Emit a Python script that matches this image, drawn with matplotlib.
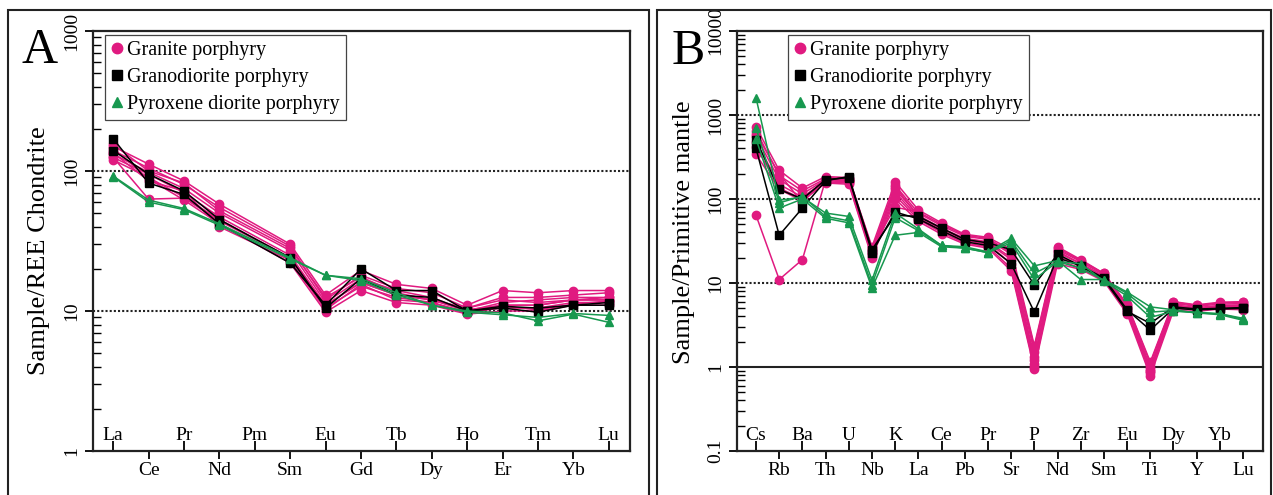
import numpy as np
import matplotlib.pyplot as plt
from matplotlib.patches import Rectangle
from matplotlib.lines import Line2D
from matplotlib.ticker import LogLocator, NullFormatter

plt.rcParams['font.family'] = ['Liberation Serif', 'DejaVu Serif']

# Panel A: chondrite-normalised REE (Pm not measured)
ree = ["La", "Ce", "Pr", "Nd", "Pm", "Sm", "Eu", "Gd", "Tb", "Dy", "Ho", "Er", "Tm", "Yb", "Lu"]
ree_measured = ["La", "Ce", "Pr", "Nd", "Sm", "Eu", "Gd", "Tb", "Dy", "Ho", "Er", "Tm", "Yb", "Lu"]

granite_ree = [
    [150, 112, 85, 58, 30, 13.0, 19.5, 15.5, 14.5, 11.0, 14.0, 13.5, 14.0, 14.0],
    [140, 105, 80, 55, 29, 12.0, 18.0, 14.5, 13.5, 10.5, 12.5, 12.5, 13.0, 13.5],
    [132, 98, 75, 50, 27, 11.5, 17.0, 14.0, 12.5, 10.0, 11.5, 12.0, 12.5, 12.5],
    [125, 95, 70, 47, 25, 11.0, 16.0, 13.0, 12.0, 10.2, 11.0, 11.0, 12.0, 12.0],
    [120, 90, 65, 45, 24, 10.5, 15.0, 12.5, 11.5, 9.8, 10.5, 10.5, 11.5, 11.5],
    [145, 88, 62, 42, 22, 9.8, 14.0, 11.5, 11.0, 9.5, 10.0, 10.0, 11.0, 11.0],
    [155, 100, 82, 52, 28, 12.5, 17.5, 13.5, 12.0, 10.5, 12.0, 11.5, 12.0, 12.5],
    [125, 63, 64, 44, 24, 11.0, 16.0, 13.0, 12.0, 10.0, 11.0, 11.0, 12.0, 12.0],
    [135, 85, 72, 40, 23, 10.2, 15.5, 12.0, 11.5, 9.6, 10.8, 10.2, 11.2, 11.8],
]
granodiorite_ree = [
    [170, 82, 68, 42, 22, 11.0, 20.0, 14.0, 14.0, 10.0, 10.5, 9.8, 11.0, 11.5],
    [140, 95, 72, 45, 24, 10.5, 17.0, 13.0, 12.5, 10.0, 10.8, 10.5, 11.0, 11.0],
]
pyroxene_ree = [
    [91, 60, 53, 41, 23.5, 18.0, 17.0, 13.5, 11.0, 10.0, 9.7, 8.5, 9.5, 8.3],
    [92, 62, 54, 42, 24.0, 18.0, 16.5, 13.0, 11.0, 9.8, 9.4, 9.0, 9.6, 9.3],
]

# Panel B: primitive-mantle normalised trace elements
trace = ["Cs", "Rb", "Ba", "Th", "U", "Nb", "K", "La", "Ce", "Pb", "Pr",
         "Sr", "P", "Nd", "Zr", "Sm", "Eu", "Ti", "Dy", "Y", "Yb", "Lu"]

granite_tr = [
    [720, 220, 135, 185, 180, 27, 160, 74, 52, 38, 35, 25, 1.8, 27, 19, 13.0, 5.6, 1.15, 6.0, 5.5, 5.9, 6.0],
    [650, 190, 125, 175, 170, 25, 145, 68, 48, 36, 33, 22, 1.5, 25, 18, 12.5, 5.3, 1.0, 5.7, 5.3, 5.6, 5.7],
    [560, 170, 115, 170, 165, 24, 130, 64, 45, 34, 31, 20, 1.3, 23, 17, 12.0, 5.0, 0.95, 5.5, 5.1, 5.4, 5.5],
    [480, 150, 105, 165, 160, 22, 120, 60, 42, 32, 29, 17, 1.1, 21, 16, 11.5, 4.8, 0.9, 5.2, 5.0, 5.2, 5.3],
    [420, 135, 100, 160, 155, 21, 110, 57, 40, 30, 27, 15, 1.0, 19, 15, 11.0, 4.5, 0.85, 5.0, 4.8, 5.0, 5.1],
    [340, 130, 95, 155, 150, 20, 100, 54, 38, 29, 26, 14, 0.95, 17, 14.5, 10.5, 4.3, 0.78, 4.7, 4.6, 4.9, 4.8],
    [600, 200, 90, 180, 175, 26, 80, 70, 50, 37, 34, 23, 1.7, 26, 18.5, 13.0, 5.5, 1.1, 5.9, 5.4, 5.8, 5.9],
    [64, 11, 19, 170, 165, 23, 140, 62, 44, 33, 30, 19, 1.2, 24, 17, 12.0, 5.0, 0.9, 5.4, 5.0, 5.3, 5.4],
]
granodiorite_tr = [
    [400, 37, 78, 165, 185, 25, 64, 62, 45, 33, 30, 25, 9.5, 22, 16, 11.5, 4.8, 2.75, 5.0, 4.8, 4.9, 5.0],
    [500, 130, 100, 170, 180, 23, 70, 58, 42, 31, 28, 17, 4.5, 20, 16, 11.0, 4.6, 3.3, 5.2, 4.9, 5.0, 5.1],
]
pyroxene_tr = [
    [1600, 97, 105, 68, 62, 10.8, 68, 44, 28, 27, 23.5, 34, 16, 18.5, 11, 11.0, 7.8, 5.2, 4.8, 4.4, 4.2, 3.6],
    [520, 78, 100, 59, 52, 8.7, 37, 40, 27, 26, 23, 30, 11, 18, 17, 10.5, 7.0, 3.9, 4.6, 4.5, 4.3, 3.8],
    [700, 90, 108, 62, 55, 9.5, 60, 42, 28, 26, 23, 32, 13, 18, 15, 10.8, 7.5, 4.5, 4.7, 4.4, 4.3, 3.7],
]

group_names = ["Granite porphyry", "Granodiorite porphyry", "Pyroxene diorite porphyry"]
pink, green = "#E01A80", "#17984F"

fig = plt.figure(figsize=(12.73, 4.95), dpi=100)
axA = fig.add_axes([93 / 1273, 44 / 495, 537 / 1273, 420 / 495])
axB = fig.add_axes([737 / 1273, 44 / 495, 526 / 1273, 420 / 495])


def draw(ax, xs, samples, color, marker, ms):
    for s in samples:
        ax.plot(xs, s, color=color, marker=marker, markersize=ms, lw=1.1,
                mec=color, mfc=color)


def style(ax, labels, ylim, yticks, ytl, ylabel, ylab_y):
    n = len(labels)
    pos = np.arange(n)
    ax.set_yscale("log")
    ax.set_ylim(*ylim)
    ax.set_yticks(yticks)
    ax.set_yticklabels(ytl)
    ax.yaxis.set_minor_locator(LogLocator(base=10, subs=np.arange(2, 10)))
    ax.yaxis.set_minor_formatter(NullFormatter())
    ax.tick_params(axis="y", which="major", direction="out", length=6, width=1.3,
                   labelsize=14, labelrotation=90)
    ax.tick_params(axis="y", which="minor", direction="in", length=6, width=1.0)
    for lab in ax.get_yticklabels():
        lab.set_va("center")

    ax.set_xticks(pos[1::2])
    ax.set_xticklabels(labels[1::2])
    ax.set_xticks(pos[0::2], minor=True)
    ax.set_xticklabels(labels[0::2], minor=True)
    ax.tick_params(axis="x", which="major", direction="out", length=6, width=1.3,
                   labelsize=14, pad=2)
    ax.tick_params(axis="x", which="minor", direction="in", length=7, width=1.3,
                   labelsize=14, pad=-5)
    for lab in ax.get_xticklabels(minor=True):
        lab.set_va("bottom")

    for sp in ax.spines.values():
        sp.set_linewidth(1.6)
        sp.set_color("#222222")
    ax.set_ylabel(ylabel, fontsize=19)
    ax.yaxis.set_label_coords(-0.08, ylab_y)


# panel A
xs_a = [ree.index(el) for el in ree_measured]
axA.axhline(10, color="#222222", lw=1.5, ls=(0, (1, 1)), zorder=1)
axA.axhline(100, color="#222222", lw=1.5, ls=(0, (1, 1)), zorder=1)
draw(axA, xs_a, granite_ree, pink, "o", 6)
draw(axA, xs_a, granodiorite_ree, "black", "s", 5.5)
draw(axA, xs_a, pyroxene_ree, green, "^", 6)
axA.set_xlim(-0.57, len(ree) - 1 + 0.6)
style(axA, ree, (1, 1000), [1, 10, 100, 1000], ["1", "10", "100", "1000"],
      "Sample/REE Chondrite", 0.476)

# panel B
xs_b = np.arange(len(trace))
for lvl in [10, 100, 1000]:
    axB.axhline(lvl, color="#222222", lw=1.5, ls=(0, (1, 1)), zorder=1)
axB.axhline(1, color="#222222", lw=1.5, zorder=1)
draw(axB, xs_b, granite_tr, pink, "o", 6)
draw(axB, xs_b, granodiorite_tr, "black", "s", 5.5)
draw(axB, xs_b, pyroxene_tr, green, "^", 6)
axB.set_xlim(-0.82, len(trace) - 1 + 0.86)
style(axB, trace, (0.1, 10000), [0.1, 1, 10, 100, 1000, 10000],
      ["0.1", "1", "10", "100", "1000", "10000"], "Sample/Primitive mantle", 0.52)

handles = [
    Line2D([], [], ls="none", marker="o", color=pink, markersize=7.5),
    Line2D([], [], ls="none", marker="s", color="black", markersize=7.5),
    Line2D([], [], ls="none", marker="^", color=green, markersize=7.5),
]
for ax, bx in [(axA, 0.022), (axB, 0.097)]:
    leg = ax.legend(handles, group_names, loc="upper left", bbox_to_anchor=(bx, 0.99),
                    borderaxespad=0, fontsize=14.5, handlelength=0.6, handletextpad=0.2,
                    labelspacing=0.38, borderpad=0.3, fancybox=False, framealpha=1)
    leg.get_frame().set_edgecolor("#444444")
    leg.get_frame().set_linewidth(0.9)

# panel letters and outer frames
fig.text(22 / 1273, 1 - 63 / 495, "A", fontsize=36)
fig.text(672 / 1273, 1 - 64 / 495, "B", fontsize=36)
fig.add_artist(Rectangle((8 / 1273, -0.05), (649 - 8) / 1273, 1.05 - 10 / 495,
                         transform=fig.transFigure, fill=False, lw=1.5, color="#222222"))
fig.add_artist(Rectangle((657 / 1273, -0.05), (1271 - 657) / 1273, 1.05 - 10 / 495,
                         transform=fig.transFigure, fill=False, lw=1.5, color="#222222"))

fig.savefig("out.png", dpi=100)
